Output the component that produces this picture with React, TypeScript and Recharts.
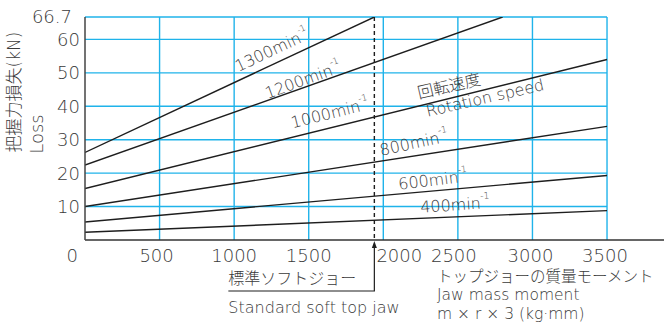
import React from 'react';
import { LineChart, Line, XAxis, YAxis, ReferenceLine, ReferenceDot } from 'recharts';

// ---------- data ----------
const speedLabels = ['1300', '1200', '1000', '800', '600', '400'];
const lossAtZero = [26.2, 22.4, 15.4, 10.0, 5.4, 2.3];
const endMoment = [1940, 2800, 3500, 3500, 3500, 3500];
const lossAtEnd = [66.7, 66.7, 54.0, 34.0, 19.3, 8.8];

const yTicks = [0, 10, 20, 30, 40, 50, 60, 66.7];
const xTicks = [500, 1000, 1500, 2000, 2500, 3000, 3500];
const yGridValues = [10, 20, 30, 40, 50, 60, 66.7];
const xGridValues = [500, 1000, 1500, 2000, 2500, 3000, 3500];
const xGridMax = 3500;
const xAxisEnd = 3882;
const yMax = 66.7;
const softJawMoment = 1940;

const labelMoment = [1254, 1462, 1643, 2206, 2333, 2481];
const labelLoss = [56.8, 47.8, 37.9, 29.0, 17.9, 10.5];
const labelAngle = [-25, -20, -14, -12, -7, -4];

const captionTexts = ['回転速度', 'Rotation speed'];
const captionMoment = [2441, 2682];
const captionLoss = [46.0, 42.5];
const captionAngle = [-13, -13];

// ---------- style ----------
const W = 664;
const H = 329;
const FONT = "'DejaVu Sans', 'Noto Sans CJK JP', sans-serif";
const TEXT = '#3a3a3a';
const GRID = '#1fb3ea';
const INK = '#1e1e1e';

const seriesData = speedLabels.map((_, i) => [
  { x: 0, y: lossAtZero[i] },
  { x: endMoment[i], y: lossAtEnd[i] },
]);

const xShift: Record<number, number> = { 500: -3, 2000: 16, 2500: -4, 3000: -2, 3500: -2 };

const XTick = (props: any) => {
  const v = props.payload.value;
  return (
    <text x={props.x + (xShift[v] || 0)} y={props.y + 15} textAnchor="middle" dominantBaseline="central"
      fontSize={18} fontFamily={FONT} fontWeight={200} fill={TEXT}>
      {v}
    </text>
  );
};

const YTick = (props: any) => {
  const v = props.payload.value;
  let x = props.x;
  let y = props.y;
  if (v === 66.7) { x -= 8; y -= 1; }
  if (v === 0) { x -= 2; y += 15; }
  return (
    <text x={x} y={y} textAnchor="end" dominantBaseline="central"
      fontSize={18} fontFamily={FONT} fontWeight={200} fill={TEXT}>
      {v}
    </text>
  );
};

const RotText = ({ cx, cy, angle, text, sup }: any) => (
  <text x={cx} y={cy} transform={`rotate(${angle} ${cx} ${cy})`} textAnchor="middle" dominantBaseline="central"
    fontSize={16} fontFamily={FONT} fontWeight={200} fill={TEXT}>
    {text}
    {sup ? <tspan fontSize={9} dy={-7}>{sup}</tspan> : null}
  </text>
);

const SoftJawShape = (p: any) => {
  const x = p.x1;
  const top = Math.min(p.y1, p.y2);
  const bottom = Math.max(p.y1, p.y2);
  const left = x - 146;
  const by = bottom + 51;
  return (
    <g>
      <line x1={x} y1={top} x2={x} y2={bottom - 1} stroke={INK} strokeWidth={1.4} strokeDasharray="4 3" />
      <polygon points={`${x},${bottom + 1} ${x - 2.5},${bottom + 8} ${x + 2.5},${bottom + 8}`} fill={INK} />
      <polyline points={`${x},${bottom + 6} ${x},${by} ${left},${by}`} fill="none" stroke={INK} strokeWidth={1.2} />
      <text x={left} y={bottom + 38} dominantBaseline="central" fontSize={16} fontFamily={FONT} fontWeight={200} fill={TEXT}>
        標準ソフトジョー
      </text>
      <text x={left} y={bottom + 67} dominantBaseline="central" fontSize={16} fontFamily={FONT} fontWeight={200} fill={TEXT}>
        Standard soft top jaw
      </text>
    </g>
  );
};

export default function App() {
  return (
    <div style={{ position: 'absolute', left: 0, top: 0, width: W, height: H, background: '#fff' }}>
      <LineChart width={W} height={H} margin={{ top: 17, right: 0, bottom: 0, left: 0 }}>
        <XAxis type="number" dataKey="x" domain={[0, xAxisEnd]} ticks={xTicks} interval={0}
          axisLine={{ stroke: '#333', strokeWidth: 1.5 }} tickLine={false} tickSize={0} tickMargin={0}
          height={89} tick={<XTick />} allowDataOverflow />
        <YAxis type="number" domain={[0, yMax]} ticks={yTicks} interval={0} width={85}
          axisLine={{ stroke: '#444', strokeWidth: 1.5 }} tickLine={false} tickSize={0} tickMargin={5}
          tick={<YTick />} allowDataOverflow />
        {yGridValues.map((v) => (
          <ReferenceLine key={'h' + v} segment={[{ x: 0, y: v }, { x: xGridMax, y: v }]} stroke={GRID} strokeWidth={1.4} />
        ))}
        {xGridValues.map((v) => (
          <ReferenceLine key={'v' + v} x={v} stroke={GRID} strokeWidth={1.4} />
        ))}
        {seriesData.map((d, i) => (
          <Line key={speedLabels[i]} data={d} dataKey="y" type="linear" stroke={INK} strokeWidth={1.4}
            dot={false} activeDot={false} isAnimationActive={false} />
        ))}
        <ReferenceLine x={softJawMoment} stroke={INK} shape={<SoftJawShape />} />
        {speedLabels.map((s, i) => (
          <ReferenceDot key={'l' + s} x={labelMoment[i]} y={labelLoss[i]} r={0}
            shape={(p: any) => <RotText cx={p.cx} cy={p.cy} angle={labelAngle[i]} text={s + 'min'} sup="-1" />} />
        ))}
        {captionTexts.map((t, i) => (
          <ReferenceDot key={'c' + i} x={captionMoment[i]} y={captionLoss[i]} r={0}
            shape={(p: any) => <RotText cx={p.cx} cy={p.cy} angle={captionAngle[i]} text={t} />} />
        ))}
      </LineChart>
      <svg width={W} height={H} style={{ position: 'absolute', left: 0, top: 0, pointerEvents: 'none' }}>
        <text x={13.5} y={92} transform="rotate(-90 13.5 92)" textAnchor="middle" dominantBaseline="central"
          fontSize={17} fontFamily={FONT} fontWeight={200} fill={TEXT}>
          把握力損失(kN)
        </text>
        <text x={36} y={134} transform="rotate(-90 36 134)" textAnchor="middle" dominantBaseline="central"
          fontSize={18} fontFamily={FONT} fontWeight={200} fill={TEXT}>
          Loss
        </text>
        <text x={437} y={277} dominantBaseline="central" fontSize={15.5} fontFamily={FONT} fontWeight={200} fill={TEXT}>
          トップジョーの質量モーメント
        </text>
        <text x={437} y={295} dominantBaseline="central" fontSize={15.5} fontFamily={FONT} fontWeight={200} fill={TEXT}>
          Jaw mass moment
        </text>
        <text x={437} y={314} dominantBaseline="central" fontSize={15.5} fontFamily={FONT} fontWeight={200} fill={TEXT}>
          m × r × 3 (kg·mm)
        </text>
      </svg>
    </div>
  );
}
